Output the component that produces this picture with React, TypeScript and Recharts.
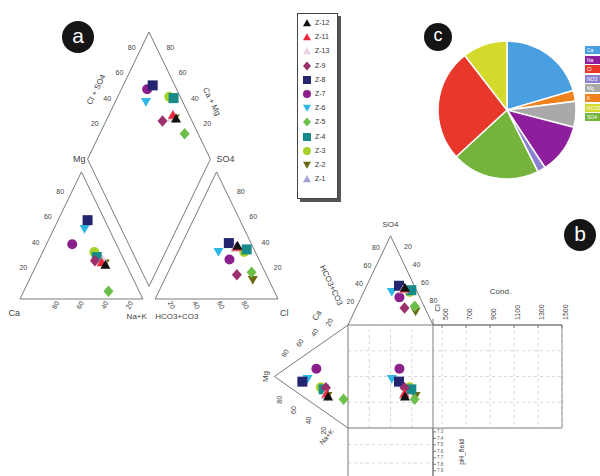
import React from 'react';
import { ScatterChart, Scatter, XAxis, YAxis, PieChart, Pie, Cell, CartesianGrid, ReferenceLine } from 'recharts';

// ---------------- data ----------------
const sampleIds = ['Z-12', 'Z-11', 'Z-13', 'Z-9', 'Z-8', 'Z-7', 'Z-6', 'Z-5', 'Z-4', 'Z-3', 'Z-2', 'Z-1'];
const caPct = [17, 19, 17, 24, 14, 36, 20, 25, 21, 21, 17, 17];
const mgPct = [27, 29, 31, 30, 62, 43, 55, 6, 33, 37, 28, 30];
const nakPct = [56, 52, 52, 46, 24, 21, 25, 69, 46, 42, 55, 53];
const hco3Pct = [12, 13, 15, 24, 18, 24, 30, 11, 6, 9, 13, 14];
const so4Pct = [42, 41, 40, 19, 44, 31, 37, 21, 39, 37, 15, 41];
const clPct = [46, 46, 45, 57, 38, 45, 33, 68, 55, 54, 72, 45];

const ternaryTicks = [20, 40, 60, 80];
const condTicks = [500, 700, 900, 1100, 1300, 1500];
const phTicks = [7.3, 7.4, 7.5, 7.6, 7.7, 7.8, 7.9];

// pie slices, clockwise from 12 o'clock
const pieNames = ['Ca', 'K', 'Mg', 'Na', 'NO3', 'SO4', 'Cl', 'HCO3'];
const pieValues = [20.5, 2.5, 6.1, 11.7, 1.9, 20.6, 26.4, 10.5];
const pieLegendNames = ['Ca', 'Na', 'Cl', 'NO3', 'Mg', 'K', 'HCO3', 'SO4'];

// ---------------- styles ----------------
const markerKinds = ['tri', 'tri', 'tri', 'diamond', 'square', 'circle', 'down', 'diamond', 'square', 'circle', 'down', 'tri'];
const markerColors = ['#111111', '#e8283c', '#e6d3e2', '#9c2f6c', '#23266e', '#8b1f8c', '#2fb8e6', '#6dbf4b', '#198a8a', '#a6d32b', '#6a6a12', '#a3a3d6'];
const pieColorMap: Record<string, string> = {
  Ca: '#4a9fe0', K: '#f0821e', Mg: '#a9a9a9', Na: '#8e1f9c', NO3: '#8b80cf', SO4: '#74b43c', Cl: '#e8382c', HCO3: '#d4da2c',
};
const LINE = '#7a7a7a';
const FONT = 'Liberation Sans, Arial, sans-serif';

// ---------------- geometry helpers ----------------
const H = Math.sqrt(3) / 2;
const GAP = 10;
const piperCation = (ca: number, mg: number, nak: number) => ({ x: nak + mg / 2, y: mg * H });
const piperAnion = (hco3: number, so4: number, cl: number) => ({ x: 100 + GAP + cl + so4 / 2, y: so4 * H });
const piperDiamond = (nak: number, clso4: number) => ({ x: 50 + GAP / 2 + (clso4 + nak) / 2, y: H * (100 + GAP + clso4 - nak) });
const durovTop = (so4: number, cl: number) => ({ x: cl + so4 / 2, y: 100 + so4 * H });
const durovLeft = (ca: number, mg: number) => ({ x: -mg * H, y: ca + mg / 2 });
const durovSquare = (ca: number, mg: number, so4: number, cl: number) => ({ x: cl + so4 / 2, y: ca + mg / 2 });

const poly = (pts: number[][]) => pts.map(([x, y]) => ({ x, y }));

const piperFrames = [
  poly([[0, 0], [100, 0], [50, 100 * H], [0, 0]]),
  poly([[110, 0], [210, 0], [160, 100 * H], [110, 0]]),
  poly([[105, 10 * H], [55, 110 * H], [105, 210 * H], [155, 110 * H], [105, 10 * H]]),
];

const COND_EDGE = 251.8;
const durovFrames = [
  poly([[0, 100], [50, 100 + 100 * H], [100, 100]]),
  poly([[0, 100], [-100 * H, 50], [0, 0]]),
  poly([[0, 0], [0, 100], [COND_EDGE, 100], [COND_EDGE, 0], [0, 0]]),
  poly([[100, 106], [100, -46.6]]),
  poly([[0, 0], [0, -46.6]]),
];

const drawOrder = sampleIds.map((_, i) => sampleIds.length - 1 - i);

const piperSeries = drawOrder.map((i) => [
  piperCation(caPct[i], mgPct[i], nakPct[i]),
  piperAnion(hco3Pct[i], so4Pct[i], clPct[i]),
  piperDiamond(nakPct[i], so4Pct[i] + clPct[i]),
]);
const durovSeries = drawOrder.map((i) => [
  durovTop(so4Pct[i], clPct[i]),
  durovLeft(caPct[i], mgPct[i]),
  durovSquare(caPct[i], mgPct[i], so4Pct[i], clPct[i]),
]);

const piperLabels = [
  ...ternaryTicks.map((v) => ({ ...piperCation(100 - v, v, 0), t: String(v), dx: -9, dy: -6 })),
  ...ternaryTicks.map((v) => ({ ...piperAnion(0, v, 100 - v), t: String(v), dx: 12, dy: -6 })),
  ...ternaryTicks.map((v) => ({ ...piperCation(v, 0, 100 - v), t: String(v), dx: 11, dy: 6, rot: -60 })),
  ...ternaryTicks.map((v) => ({ ...piperAnion(100 - v, 0, v), t: String(v), dx: -8, dy: 6, rot: 60 })),
  ...ternaryTicks.map((v) => ({ ...piperDiamond(0, v), t: String(v), dx: -5, dy: -10 })),
  ...ternaryTicks.map((v) => ({ ...piperDiamond(100 - v, 100), t: String(v), dx: 9, dy: -10 })),
  { ...piperDiamond(0, 0), t: 'Mg', dx: -2, dy: 0, anchor: 'end', fs: 9 },
  { ...piperDiamond(100, 100), t: 'SO4', dx: 6, dy: 0, anchor: 'start', fs: 9 },
  { ...piperCation(100, 0, 0), t: 'Ca', dx: 0, dy: 14, anchor: 'end', fs: 9 },
  { ...piperCation(0, 0, 100), t: 'Na+K', dx: 4, dy: 17, anchor: 'end', fs: 8 },
  { ...piperAnion(100, 0, 0), t: 'HCO3+CO3', dx: 0, dy: 17, anchor: 'start', fs: 8 },
  { ...piperAnion(0, 0, 100), t: 'Cl', dx: 2, dy: 14, anchor: 'start', fs: 9 },
  { ...piperDiamond(0, 50), t: 'Cl + SO4', dx: -22, dy: -6, rot: -64, fs: 8 },
  { ...piperDiamond(50, 100), t: 'Ca + Mg', dx: 32, dy: 6, rot: 64, fs: 8 },
];

const durovLabels = [
  ...ternaryTicks.map((v) => ({ ...durovTop(v, 0), t: String(v), dx: -6, dy: -6, fs: 7 })),
  ...ternaryTicks.map((v) => ({ ...durovTop(100 - v, v), t: String(v), dx: 9, dy: -7, fs: 7 })),
  ...ternaryTicks.map((v) => ({ ...durovLeft(100 - v, v), t: String(v), dx: -4, dy: -13, rot: -60, fs: 7 })),
  ...ternaryTicks.map((v) => ({ ...durovLeft(0, v), t: String(v), dx: -10, dy: 13, rot: -90, fs: 7 })),
  { ...durovTop(100, 0), t: 'SO4', dx: 0, dy: -11, fs: 8 },
  { ...durovTop(0, 100), t: 'Cl', dx: 4, dy: -17, rot: -90, fs: 8 },
  { ...durovLeft(0, 100), t: 'Mg', dx: -9, dy: 0, rot: -90, fs: 8 },
  { ...durovTop(50, 0), t: 'HCO3+CO3', dx: -38, dy: 5, rot: 65, fs: 8 },
  { ...durovLeft(70, 30), t: 'Ca', dx: -9, dy: -25, rot: -60, fs: 8 },
  { ...durovLeft(0, 10), t: 'Na+K', dx: -14, dy: 14, rot: -50, fs: 7 },
  { x: (100 + COND_EDGE) / 2, y: 100, t: 'Cond.', dx: 3, dy: -34, fs: 8 },
];

// ---------------- components ----------------
const Marker = ({ cx, cy, kind, color, size }: any) => {
  const s = size / 2;
  if (kind === 'square') return <rect x={cx - s} y={cy - s} width={size} height={size} fill={color} />;
  if (kind === 'circle') return <circle cx={cx} cy={cy} r={s} fill={color} />;
  if (kind === 'diamond')
    return <polygon points={`${cx},${cy - s * 1.15} ${cx + s},${cy} ${cx},${cy + s * 1.15} ${cx - s},${cy}`} fill={color} />;
  if (kind === 'down')
    return <polygon points={`${cx - s},${cy - s * 0.8} ${cx + s},${cy - s * 0.8} ${cx},${cy + s * 0.95}`} fill={color} />;
  return <polygon points={`${cx},${cy - s * 0.95} ${cx + s},${cy + s * 0.8} ${cx - s},${cy + s * 0.8}`} fill={color} />;
};

const TextShape = (props: any) => {
  const { cx, cy, payload } = props;
  if (cx == null || cy == null) return <g />;
  const x = cx + (payload.dx || 0);
  const y = cy + (payload.dy || 0);
  return (
    <text
      x={x}
      y={y}
      fontSize={payload.fs || 7}
      fill="#444"
      fontFamily={FONT}
      textAnchor={payload.anchor || 'middle'}
      dominantBaseline="central"
      transform={payload.rot ? `rotate(${payload.rot} ${x} ${y})` : undefined}
    >
      {payload.t}
    </text>
  );
};

const Empty = () => <g />;

const CondTick = (props: any) => {
  const { x, y, payload } = props;
  const tx = x + 6;
  const ty = y - 5;
  return (
    <g>
      <line x1={x} y1={y} x2={x} y2={y + 3} stroke={LINE} />
      <text x={tx} y={ty} transform={`rotate(-90 ${tx} ${ty})`} fontSize={7} fill="#444" fontFamily={FONT} textAnchor="start">
        {payload.value}
      </text>
    </g>
  );
};

const Badge = ({ left, top, size, letter, fs }: any) => (
  <div
    style={{
      position: 'absolute', left, top, width: size, height: size, borderRadius: '50%', background: '#151515',
      color: '#fff', fontFamily: FONT, fontSize: fs, lineHeight: `${size - 3}px`, textAlign: 'center',
    }}
  >
    {letter}
  </div>
);

export default function App() {
  const pieData = pieNames.map((n, i) => ({ name: n, value: pieValues[i] }));
  return (
    <div style={{ position: 'absolute', left: 0, top: 0, width: 600, height: 476, overflow: 'hidden', background: '#fff', fontFamily: FONT }}>
      {/* Piper diagram */}
      <div style={{ position: 'absolute', left: 0, top: 0 }}>
        <ScatterChart width={300} height={330} margin={{ top: 32, right: 22, bottom: 31, left: 20 }}>
          <XAxis type="number" dataKey="x" domain={[0, 210]} hide />
          <YAxis type="number" dataKey="y" domain={[0, 210 * H]} hide />
          {piperFrames.map((f, k) => (
            <Scatter key={`pf${k}`} data={f} line={{ stroke: LINE, strokeWidth: 1 }} shape={Empty} isAnimationActive={false} legendType="none" />
          ))}
          <Scatter data={piperLabels} shape={TextShape} isAnimationActive={false} legendType="none" />
          {piperSeries.map((pts, k) => {
            const i = drawOrder[k];
            return (
              <Scatter
                key={`ps${i}`}
                name={sampleIds[i]}
                data={pts}
                isAnimationActive={false}
                shape={(p: any) => <Marker cx={p.cx} cy={p.cy} kind={markerKinds[i]} color={markerColors[i]} size={10} />}
              />
            );
          })}
        </ScatterChart>
      </div>

      {/* Piper legend */}
      <div style={{ position: 'absolute', left: 297, top: 13, width: 39, height: 184, border: '1px solid #444', boxShadow: '3px 3px 0 #555', background: '#fff' }}>
        {sampleIds.map((id, i) => (
          <div key={id} style={{ position: 'absolute', left: 4, top: 4 + i * 14.2, height: 10, display: 'flex', alignItems: 'center' }}>
            <svg width={10} height={10} style={{ display: 'block' }}>
              <Marker cx={5} cy={5} kind={markerKinds[i]} color={markerColors[i]} size={8} />
            </svg>
            <span style={{ fontSize: 7, marginLeft: 3, color: '#333', lineHeight: '10px' }}>{id}</span>
          </div>
        ))}
      </div>

      {/* Pie */}
      <div style={{ position: 'absolute', left: 427, top: 30 }}>
        <PieChart width={160} height={160} margin={{ top: 0, right: 0, bottom: 0, left: 0 }}>
          <Pie data={pieData} dataKey="value" nameKey="name" cx={80} cy={80} outerRadius={69} startAngle={90} endAngle={-270} stroke="#fff" strokeWidth={1.5} isAnimationActive={false}>
            {pieData.map((d) => (
              <Cell key={d.name} fill={pieColorMap[d.name]} />
            ))}
          </Pie>
        </PieChart>
      </div>
      {pieLegendNames.map((n, i) => (
        <div key={n} style={{ position: 'absolute', left: 585, top: 46 + i * 9.6, width: 20, height: 8, background: pieColorMap[n], color: '#fff', fontSize: 5, lineHeight: '8px', paddingLeft: 2, boxSizing: 'border-box', overflow: 'hidden' }}>
          {n}
        </div>
      ))}

      {/* Durov diagram */}
      <div style={{ position: 'absolute', left: 240, top: 210 }}>
        <ScatterChart width={360} height={266} margin={{ top: 0, right: 0, bottom: 0, left: 0 }}>
          <XAxis type="number" dataKey="x" domain={[-127.06, 296.47]} hide />
          <YAxis type="number" dataKey="y" domain={[-46.6, 211.65]} hide />
          {[25, 50, 75].map((v) => (
            <ReferenceLine key={`gv${v}`} segment={[{ x: v, y: 0 }, { x: v, y: 100 }]} stroke="#d6d6d6" strokeDasharray="3 3" />
          ))}
          {[25, 50, 75].map((v) => (
            <ReferenceLine key={`gh${v}`} segment={[{ x: 0, y: v }, { x: COND_EDGE, y: v }]} stroke="#d6d6d6" strokeDasharray="3 3" />
          ))}
          {[-16, -34].map((v) => (
            <ReferenceLine key={`gp${v}`} segment={[{ x: 0, y: v }, { x: 100, y: v }]} stroke="#d6d6d6" strokeDasharray="3 3" />
          ))}
          {durovFrames.map((f, k) => (
            <Scatter key={`df${k}`} data={f} line={{ stroke: LINE, strokeWidth: 1 }} shape={Empty} isAnimationActive={false} legendType="none" />
          ))}
          <Scatter data={durovLabels} shape={TextShape} isAnimationActive={false} legendType="none" />
          {durovSeries.map((pts, k) => {
            const i = drawOrder[k];
            return (
              <Scatter
                key={`ds${i}`}
                name={sampleIds[i]}
                data={pts}
                isAnimationActive={false}
                shape={(p: any) => <Marker cx={p.cx} cy={p.cy} kind={markerKinds[i]} color={markerColors[i]} size={10} />}
              />
            );
          })}
        </ScatterChart>
      </div>

      {/* Conductivity axis */}
      <div style={{ position: 'absolute', left: 433, top: 295 }}>
        <ScatterChart width={139} height={133} margin={{ top: 0, right: 10, bottom: 0, left: 0 }}>
          <CartesianGrid stroke="#d6d6d6" strokeDasharray="3 3" horizontal={false} />
          <XAxis
            type="number"
            dataKey="x"
            orientation="top"
            height={30}
            domain={[425, 1500]}
            ticks={condTicks}
            allowDataOverflow
            tickSize={0}
            tickMargin={0}
            stroke={LINE}
            tick={CondTick}
            interval={0}
          />
          <YAxis type="number" dataKey="y" domain={[0, 100]} allowDataOverflow hide />
        </ScatterChart>
      </div>

      {/* pH axis */}
      <div style={{ position: 'absolute', left: 348, top: 428 }}>
        <ScatterChart width={130} height={48} margin={{ top: 0, right: 0, bottom: 0, left: 0 }}>
          <XAxis type="number" dataKey="x" domain={[0, 1]} hide />
          <YAxis
            type="number"
            dataKey="y"
            orientation="right"
            width={45}
            domain={[7.24, 7.98]}
            reversed
            allowDataOverflow
            ticks={phTicks}
            interval={0}
            tickSize={3}
            tickMargin={1}
            stroke={LINE}
            tick={{ fontSize: 4.5, fill: '#555', fontFamily: FONT }}
            label={{ value: 'pH_field', angle: -90, position: 'center', dx: 6, fontSize: 7, fill: '#444', fontFamily: FONT }}
          />
        </ScatterChart>
      </div>

      <Badge left={62} top={21} size={32} letter="a" fs={21} />
      <Badge left={424} top={23} size={28} letter="c" fs={18} />
      <Badge left={564} top={219} size={32} letter="b" fs={21} />
    </div>
  );
}
